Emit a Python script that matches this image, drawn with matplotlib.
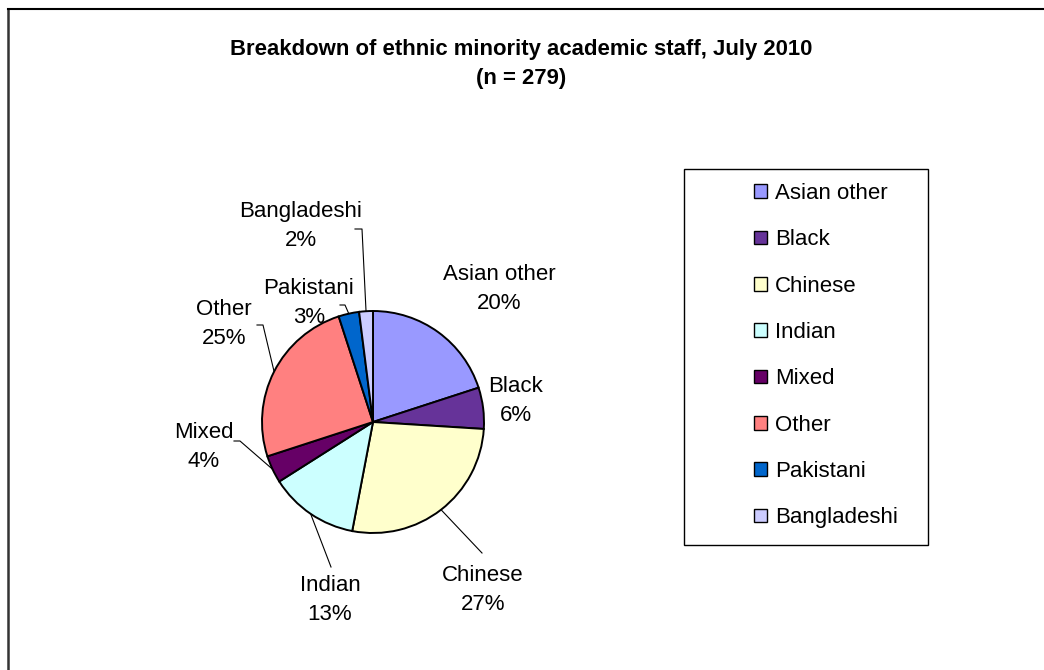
import numpy as np
import matplotlib
matplotlib.use("Agg")
import matplotlib.pyplot as plt
from matplotlib.patches import Rectangle
from matplotlib.lines import Line2D

plt.rcParams['font.family'] = ['Liberation Sans', 'DejaVu Sans']

# Data
categories = ["Asian other", "Black", "Chinese", "Indian", "Mixed",
              "Other", "Pakistani", "Bangladeshi"]
percents = [20, 6, 27, 13, 4, 25, 3, 2]
colors = ["#9999FF", "#663399", "#FFFFCC", "#CCFFFF", "#660066",
          "#FF8080", "#0066CC", "#CCCCFF"]
title = "Breakdown of ethnic minority academic staff, July 2010\n(n = 279)"

W, H = 1044, 670
CX, CY, R = 373, 422, 111  # pie centre and radius in pixels


def px(x, y):
    """Pixel position -> data coordinates (pie radius = 1)."""
    return (x - CX) / R, (CY - y) / R


fig = plt.figure(figsize=(W / 100, H / 100), dpi=100)
ax = fig.add_axes([0, 0, 1, 1])

wedges, _ = ax.pie(percents, colors=colors, startangle=90, counterclock=False,
                   radius=1, center=(0, 0),
                   wedgeprops=dict(edgecolor="black", linewidth=1.4))
ax.set_xlim(px(0, 0)[0], px(W, 0)[0])
ax.set_ylim(px(0, H)[1], px(0, 0)[1])
ax.axis("off")

# label centres (pixels) and optional leader line paths ending near the label
label_pos = {
    "Asian other": (499, 289),
    "Black": (516, 401),
    "Chinese": (483, 590),
    "Indian": (330, 600),
    "Mixed": (204, 447),
    "Other": (224, 324),
    "Pakistani": (309, 303),
    "Bangladeshi": (301, 226),
}
leader_anchor = {
    "Chinese": [(482, 553)],
    "Indian": [(331, 567)],
    "Mixed": [(234, 441), (240, 441)],
    "Other": [(257, 325), (263, 325)],
    "Pakistani": [(340, 305), (345, 305)],
    "Bangladeshi": [(355, 229), (362, 229)],
}

for w, cat, p in zip(wedges, categories, percents):
    x, y = px(*label_pos[cat])
    ax.text(x, y, f"{cat}\n{p}%", ha="center", va="center",
            multialignment="center", fontsize=16, linespacing=1.48)
    if cat in leader_anchor:
        mid = np.deg2rad((w.theta1 + w.theta2) / 2)
        pts = [px(*q) for q in leader_anchor[cat]]
        pts.append((np.cos(mid), np.sin(mid)))
        xs, ys = zip(*pts)
        ax.plot(xs, ys, color="black", lw=0.8)

# title
tx, ty = px(521, 64)
ax.text(tx, ty, title, ha="center", va="center", fontsize=15.9,
        fontweight="bold", linespacing=1.48)

# legend with its own frame
lx0, ly0, lx1, ly1 = 684, 169, 928, 545
bx, by = px(lx0, ly1)
ax.add_patch(Rectangle((bx, by), (lx1 - lx0) / R, (ly1 - ly0) / R,
                       facecolor="white", edgecolor="black", lw=1.0))
handles = [Rectangle((0, 0), 1, 1, facecolor=c, edgecolor="black", lw=1.0)
           for c in colors]
leg = ax.legend(handles, categories, loc="upper left",
                bbox_to_anchor=(754 / W, 1 - 183 / H),
                bbox_transform=fig.transFigure, frameon=False,
                fontsize=16, handlelength=0.58, handleheight=0.58,
                handletextpad=0.36, labelspacing=1.14, borderpad=0,
                borderaxespad=0)

# chart border
fig.add_artist(Line2D([8 / W, 8 / W], [0, 1 - 9 / H], color="#333333",
                      lw=1.8, transform=fig.transFigure))
fig.add_artist(Line2D([8 / W, 1], [1 - 9 / H, 1 - 9 / H], color="black",
                      lw=1.5, transform=fig.transFigure))

fig.savefig("out.png", dpi=100)
